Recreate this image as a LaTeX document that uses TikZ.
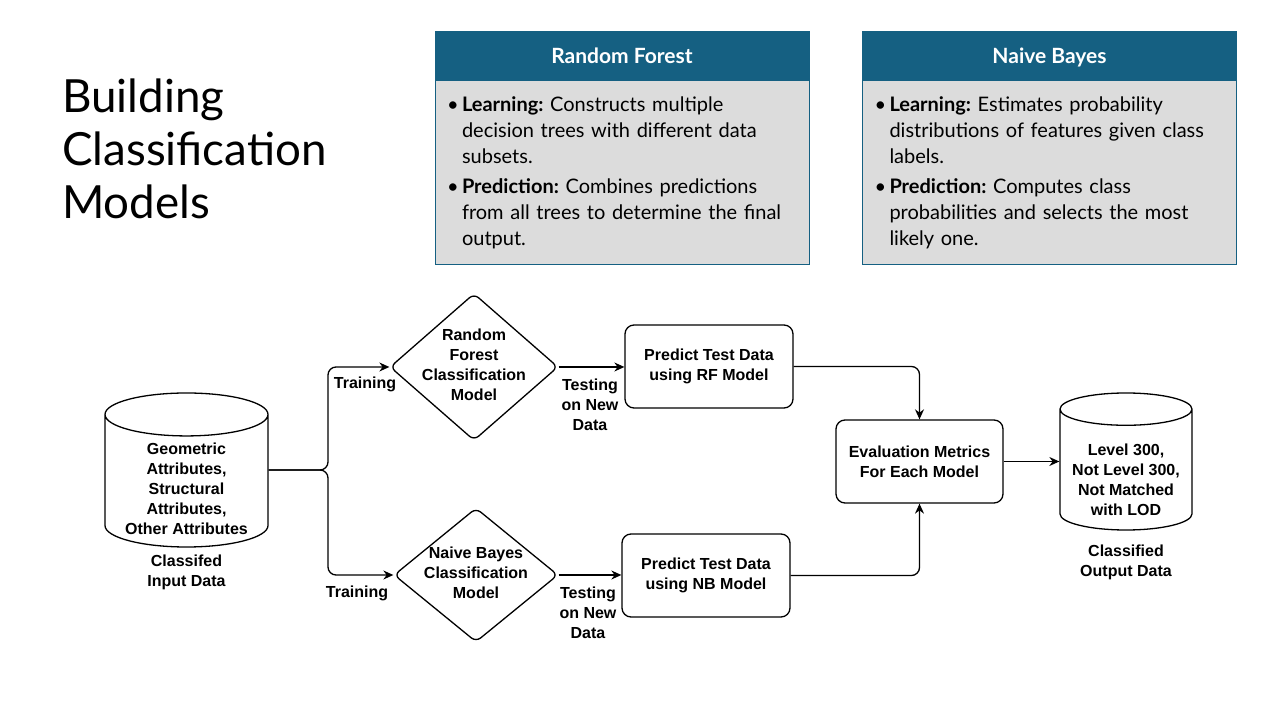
\documentclass[tikz,border=0pt]{standalone}
\usepackage{fontspec}
\setmainfont{Lato}
\newfontfamily\flowfont{Liberation Sans}
\usetikzlibrary{shapes.geometric, arrows.meta, positioning}
\definecolor{headteal}{HTML}{156082}
\definecolor{bodygray}{HTML}{DCDCDC}
\newcommand{\bitem}{\noindent\llap{\makebox[15pt][l]{\textbullet}}}
\newcommand{\dtext}[1]{\makebox[0pt]{\begin{tabular}{@{}c@{}}#1\end{tabular}}}
\newcommand{\ctext}[2][-14pt]{\smash{\raisebox{#1}{\begin{tabular}{@{}c@{}}#2\end{tabular}}}}

\begin{document}
\frenchspacing
\begin{tikzpicture}[x=1pt, y=1pt,
	flowtext/.style={font=\flowfont\bfseries\fontsize{16}{20}\selectfont},
	flow/.style={draw, line width=1.3pt, rounded corners=8, -{Stealth[length=10pt, width=9pt]}},
	proc/.style={flowtext, draw, line width=1.3pt, rounded corners=9, minimum width=168, minimum height=83, align=center},
	decision/.style={flowtext, diamond, draw, line width=1.3pt, rounded corners=6, inner sep=0, minimum width=168, minimum height=147},
	store/.style={flowtext, cylinder, shape border rotate=90, aspect=0.35, draw, line width=1.3pt, inner sep=0pt, minimum width=163, minimum height=154, anchor=shape center},
	note/.style={flowtext, align=center, inner sep=1pt},
	headbox/.style={fill=headteal, draw=headteal, text=white, minimum width=374, minimum height=49, text height=17, text depth=1, font=\bfseries\fontsize{21}{24}\selectfont},
	bodybox/.style={fill=bodygray, draw=headteal, minimum width=374, minimum height=184, text width=350, inner xsep=12, align=left, font=\fontsize{20}{26}\selectfont}]
	\fill[white] (0,0) rectangle (1280,720);
	\useasboundingbox (0,0) rectangle (1280,720);

	% slide title and the two model cards
	\node[anchor=north west, inner sep=0, align=left, font=\fontsize{45.7}{53}\selectfont] (title) at (62, 641) {Building\\Classification\\Models};
	\node[headbox] (rfhead) at (622, 664.5) {Random Forest};
	\node[bodybox, below=0pt of rfhead] (rfbody) {\leftskip=15pt
		\bitem\textbf{Learning:} Constructs multiple\newline decision trees with different data\newline subsets.\par\vspace{4pt}
		\bitem\textbf{Prediction:} Combines predictions\newline from all trees to determine the final\newline output.\par\vspace{4pt}};
	\node[headbox] (nbhead) at (1049.5, 664.5) {Naive Bayes};
	\node[bodybox, below=0pt of nbhead] (nbbody) {\leftskip=15pt
		\bitem\textbf{Learning:} Estimates probability\newline distributions of features given class\newline labels.\par\vspace{4pt}
		\bitem\textbf{Prediction:} Computes class\newline probabilities and selects the most\newline likely one.\par\vspace{4pt}};

	% flowchart
	\node[store] (in) at (186.5, 250) {\ctext{Geometric\\Attributes,\\Structural\\Attributes,\\Other Attributes}};
	\node[note, below=6pt of in] (inlabel) {Classifed\\Input Data};
	\coordinate (fork) at (328, 250);
	\node[decision] (rf) at (474, 353) {\dtext{Random\\Forest\\Classification\\Model}};
	\node[decision, minimum width=164, minimum height=134] (nb) at (476, 145) {\dtext{Naive Bayes\\Classification\\Model}};
	\node[proc] (rfp) at (709, 353.5) {Predict Test Data\\using RF Model};
	\node[proc] (nbp) at (706, 144.5) {Predict Test Data\\using NB Model};
	\node[proc, minimum width=167] (eval) at (919.5, 258.5) {Evaluation Metrics\\For Each Model};
	\node[store, aspect=0.3, minimum width=132, minimum height=137] (out) at (1126, 258.5) {\ctext[-16pt]{Level 300,\\Not Level 300,\\Not Matched\\with LOD}};
	\node[note, below=13pt of out] (outlabel) {Classified\\Output Data};

	\draw[flow] (in.shape center -| in.east) -| (fork |- rf.west) -- (rf.west);
	\draw[flow] (in.shape center -| in.east) -| (fork |- nb.west) -- (nb.west);
	\draw[flow] (rf.east) -- (rf.east -| rfp.west);
	\draw[flow] (nb.east) -- (nb.east -| nbp.west);
	\draw[flow] (rfp.east) -| (eval.north);
	\draw[flow] (nbp.east) -| (eval.south);
	\draw[flow] (eval.east) -- (eval.east -| out.west);

	\node[note] (rftrain) at (365, 336) {Training};
	\node[note] (nbtrain) at (357, 127) {Training};
	\node[note, fill=white] (rftest) at (590, 315) {Testing\\on New\\Data};
	\node[note, fill=white] (nbtest) at (588, 107) {Testing\\on New\\Data};
\end{tikzpicture}
\end{document}
